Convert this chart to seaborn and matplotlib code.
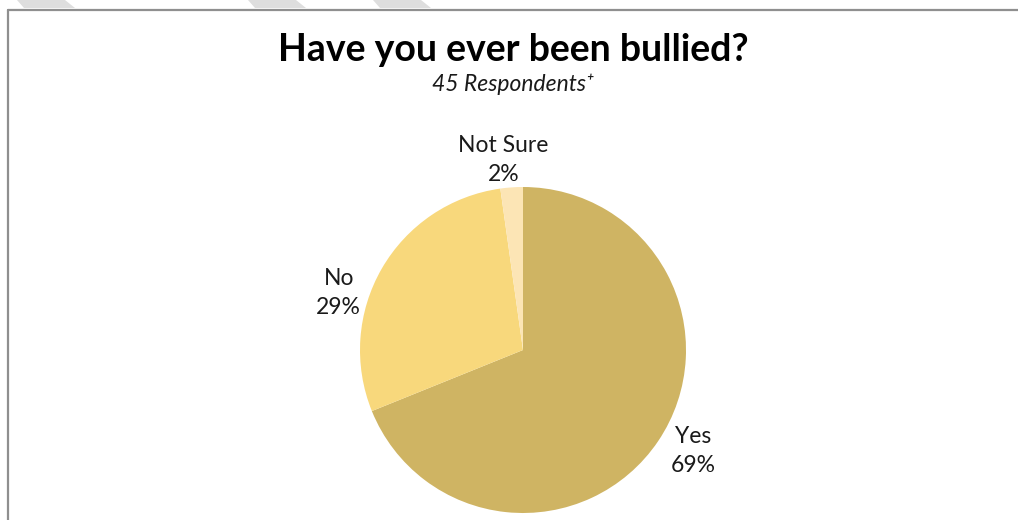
import matplotlib
matplotlib.use("Agg")
import matplotlib.pyplot as plt
from matplotlib.patches import Polygon
from matplotlib.lines import Line2D
import seaborn as sns

# Survey answers (number of respondents)
categories = ["Yes", "No", "Not Sure"]
counts = [31, 13, 1]
colors = ["#CFB463", "#F8D87C", "#FCE5B5"]

title = "Have you ever been bullied?"
subtitle = "45 Respondents\u207a"

sns.set_theme(style="white")
plt.rcParams["font.family"] = ["Lato", "DejaVu Sans"]

W, H = 1018, 520
fig = plt.figure(figsize=(W / 100, H / 100), dpi=100)
fig.patch.set_facecolor("white")

# Slide frame: striped top band, top rule and left rule
for x0 in (17, 248, 373):
    fig.patches.append(Polygon(
        [(x0 / W, 1), ((x0 + 48) / W, 1), ((x0 + 58) / W, 1 - 8 / H), ((x0 + 7) / W, 1 - 8 / H)],
        closed=True, transform=fig.transFigure, facecolor="#DEDEDE", edgecolor="none"))
fig.lines.append(Line2D([8 / W, 1], [1 - 10 / H, 1 - 10 / H], transform=fig.transFigure,
                        color="#8F8F8F", lw=1.6))
fig.lines.append(Line2D([8 / W, 8 / W], [0, 1 - 10 / H], transform=fig.transFigure,
                        color="#8F8F8F", lw=1.6))

# Titles
fig.text(513 / W, 1 - 50 / H, title, ha="center", va="center", fontsize=27,
         fontweight="bold", color="black")
fig.text(513 / W, 1 - 84 / H, subtitle, ha="center", va="center",
         fontsize=16.5, style="italic", color="#1a1a1a")

# Pie
cx, cy, r = 523, 350, 163
ax = fig.add_axes([(cx - r) / W, (H - cy - r) / H, 2 * r / W, 2 * r / H])
wedges, _ = ax.pie(counts, colors=colors, startangle=90, counterclock=False,
                   wedgeprops=dict(linewidth=0))
ax.set_xlim(-1, 1)
ax.set_ylim(-1, 1)
ax.set_aspect("equal")
ax.axis("off")

total = sum(counts)
label_pos = {"Yes": (1.045, -0.62), "No": (-1.13, 0.35), "Not Sure": (-0.12, 1.165)}
for cat, n in zip(categories, counts):
    x, y = label_pos[cat]
    ax.text(x, y, f"{cat}\n{n / total * 100:.0f}%", ha="center", va="center",
            fontsize=16.5, color="#1a1a1a", linespacing=1.45, clip_on=False)

fig.savefig("out.png", dpi=100, facecolor="white")
